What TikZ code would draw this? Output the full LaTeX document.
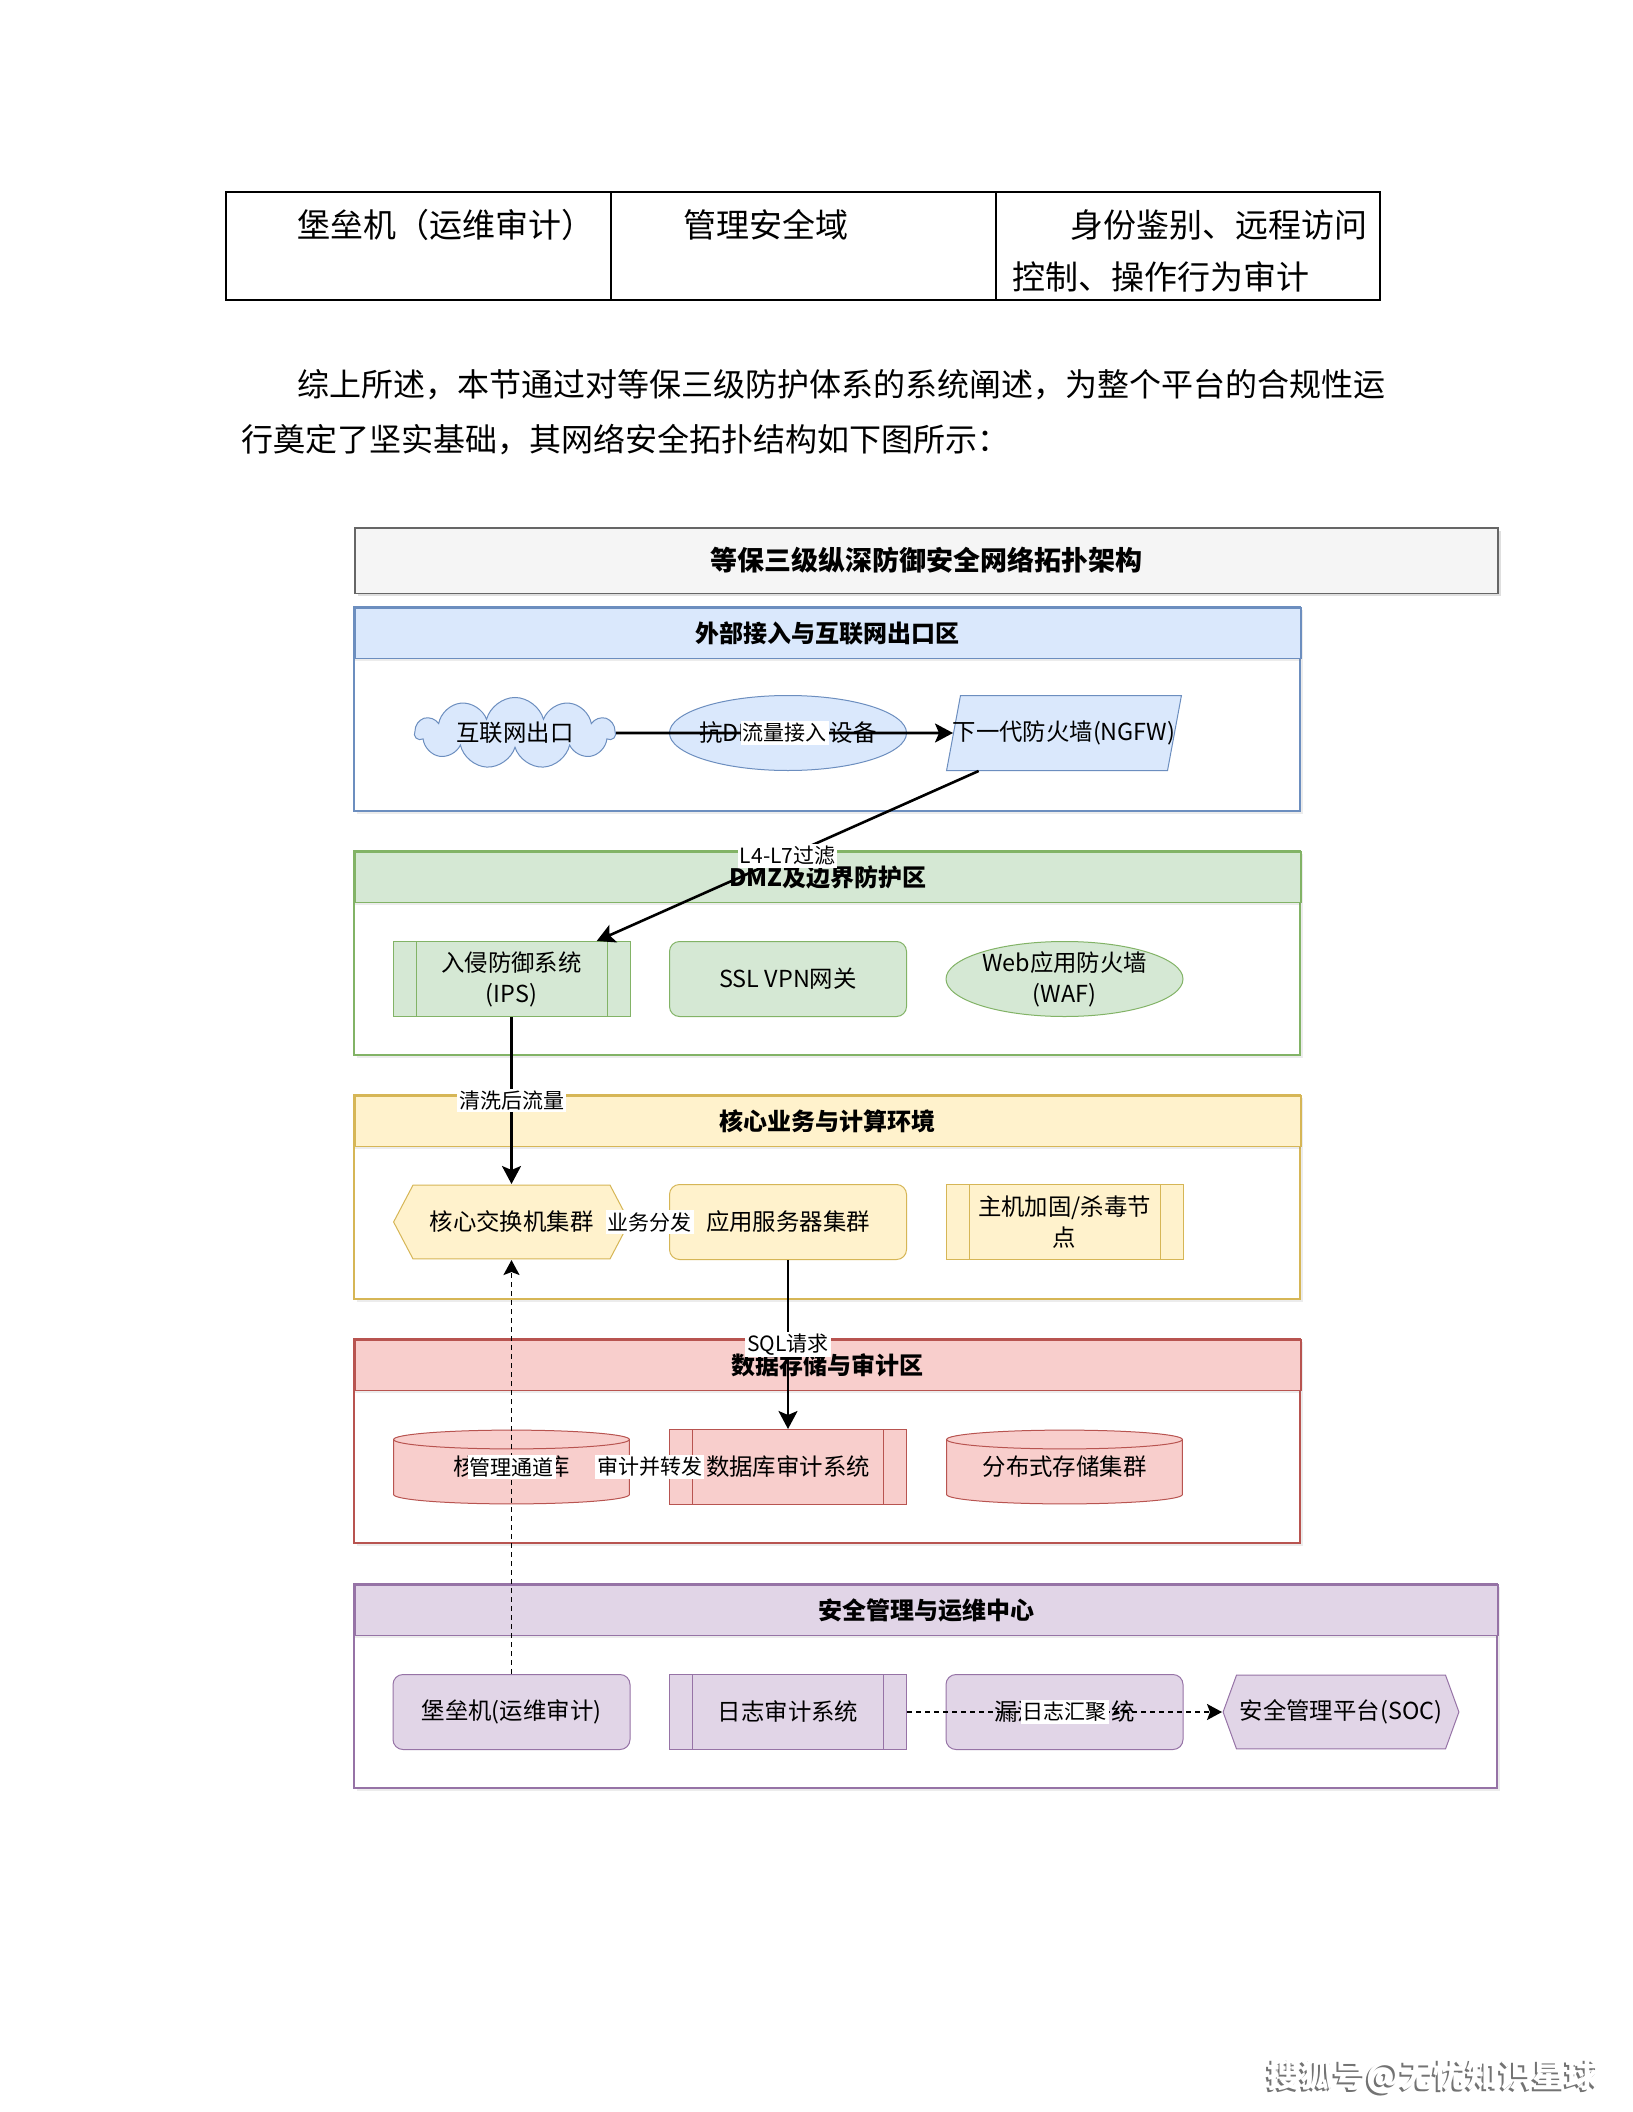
\documentclass[tikz,border=0pt]{standalone}
\usepackage{fontspec}
\setmainfont{Noto Sans CJK SC}
\usetikzlibrary{arrows.meta,positioning,shapes.geometric,shapes.symbols,shadows}
\definecolor{bluefill}{HTML}{DAE8FC}
\definecolor{blueline}{HTML}{6C8EBF}
\definecolor{greenfill}{HTML}{D5E8D4}
\definecolor{greenline}{HTML}{82B366}
\definecolor{yellowfill}{HTML}{FFF2CC}
\definecolor{yellowline}{HTML}{D6B656}
\definecolor{redfill}{HTML}{F8CECC}
\definecolor{redline}{HTML}{B85450}
\definecolor{purplefill}{HTML}{E1D5E7}
\definecolor{purpleline}{HTML}{9673A6}
\definecolor{grayfill}{HTML}{F5F5F5}
\definecolor{grayline}{HTML}{666666}
\newcommand{\bodyfont}{\fontsize{16.5}{20}\selectfont}
\newcommand{\parafont}{\fontsize{16}{20}\selectfont}
\newcommand{\titlefont}{\fontsize{13.5}{16}\selectfont\bfseries}
\newcommand{\headfont}{\fontsize{12}{14}\selectfont\bfseries}
\newcommand{\boxfont}{\fontsize{11.7}{15.5}\selectfont}
\newcommand{\lblfont}{\fontsize{10.5}{12}\selectfont}
\tikzset{
  texte/.style={
    anchor=west,
    inner sep=0pt,
    font=\bodyfont
  },
  tabline/.style={
    line width=0.75pt,
    black
  },
  titlebox/.style={
    draw=grayline,
    fill=grayfill,
    line width=0.8pt,
    anchor=north west,
    minimum width=571.5pt,
    minimum height=32.75pt,
    font=\titlefont,
    drop shadow={shadow xshift=1.5pt,shadow yshift=-1.5pt,opacity=0.25}
  },
  zonebody/.style={
    draw=#1,
    fill=white,
    line width=0.8pt,
    drop shadow={shadow xshift=1.5pt,shadow yshift=-1.5pt,opacity=0.15}
  },
  zonehead/.style 2 args={
    draw=#2,
    fill=#1,
    line width=0.8pt,
    anchor=north west,
    minimum width=473pt,
    minimum height=25.25pt,
    font=\headfont,
    drop shadow={shadow xshift=0pt,shadow yshift=-1.5pt,opacity=0.15}
  },
  nodebox/.style={
    draw,
    line width=0.5pt,
    align=center,
    minimum width=118.5pt,
    minimum height=37.5pt,
    inner sep=2pt,
    font=\boxfont
  },
  roundbox/.style={
    nodebox,
    rounded corners=5pt
  },
  ovalbox/.style={
    nodebox,
    ellipse,
    inner xsep=-4pt,
    inner ysep=-4pt
  },
  procbox/.style={
    nodebox,
    draw=#1,
    path picture={
      \draw[#1,line width=0.5pt]
        ([xshift=11.5pt]path picture bounding box.north west) --
        ([xshift=11.5pt]path picture bounding box.south west)
        ([xshift=-11.5pt]path picture bounding box.north east) --
        ([xshift=-11.5pt]path picture bounding box.south east);
    }
  },
  hexbox/.style n args={3}{
    nodebox,
    draw=none,
    fill=white,
    path picture={
      \filldraw[draw=#1,fill=#2,line width=0.5pt]
        ([xshift=0.3pt]path picture bounding box.west) --
        ([xshift=#3,yshift=-0.3pt]path picture bounding box.north west) --
        ([xshift=-#3,yshift=-0.3pt]path picture bounding box.north east) --
        ([xshift=-0.3pt]path picture bounding box.east) --
        ([xshift=-#3,yshift=0.3pt]path picture bounding box.south east) --
        ([xshift=#3,yshift=0.3pt]path picture bounding box.south west) -- cycle;
    }
  },
  dbbox/.style 2 args={
    nodebox,
    draw=none,
    fill=white,
    path picture={
      \filldraw[draw=#1,fill=#2,line width=0.5pt]
        ([xshift=0.3pt,yshift=-5pt]path picture bounding box.north west) --
        ([xshift=0.3pt,yshift=5pt]path picture bounding box.south west)
        arc[start angle=180,end angle=360,x radius=58.95pt,y radius=4.7pt] --
        ([xshift=-0.3pt,yshift=-5pt]path picture bounding box.north east)
        arc[start angle=0,end angle=180,x radius=58.95pt,y radius=4.7pt] -- cycle;
      \draw[#1,line width=0.5pt]
        ([xshift=0.3pt,yshift=-5pt]path picture bounding box.north west)
        arc[start angle=180,end angle=360,x radius=58.95pt,y radius=4.7pt];
    }
  },
  lbl/.style={
    fill=white,
    inner sep=1pt,
    font=\lblfont
  },
  wm/.style={
    font=\fontsize{16.5}{20}\selectfont\bfseries
  },
  arrow/.style={
    -{Stealth[length=9pt,width=9.5pt,inset=2pt]},
    line width=1.3pt,
    black
  },
  dasharrow/.style={
    -{Stealth[length=7.5pt,width=8pt,inset=1.5pt]},
    line width=0.9pt,
    dash pattern=on 2.5pt off 2pt,
    black
  }
}

\begin{document}
\begin{tikzpicture}[x=0.5pt,y=-0.5pt,node distance=19.25pt]
\useasboundingbox (0,0) rectangle (1632,2112);
% table and text above the figure
\draw[tabline] (226,192) rectangle (1380,300);
\draw[tabline] (611,192) -- (611,300) (996,192) -- (996,300);
\node[texte] (c1) at (297,225) {堡垒机（运维审计）};
\node[texte] (c2) at (683,225) {管理安全域};
\node[texte] (c3a) at (1070,225) {身份鉴别、远程访问};
\node[texte] (c3b) at (1012,277) {控制、操作行为审计};
\node[texte,font=\parafont] (p1) at (297,385) {综上所述，本节通过对等保三级防护体系的系统阐述，为整个平台的合规性运};
\node[texte,font=\parafont] (p2) at (241,440) {行奠定了坚实基础，其网络安全拓扑结构如下图所示：};

% title
\node[titlebox] (title) at (354,527) {等保三级纵深防御安全网络拓扑架构};

% zones
\draw[zonebody=blueline] (354,607) rectangle (1300,811);
\node[zonehead={bluefill}{blueline}] (z1) at (354,607) {外部接入与互联网出口区};
\draw[zonebody=greenline] (354,851) rectangle (1300,1055);
\node[zonehead={greenfill}{greenline}] (z2) at (354,851) {DMZ及边界防护区};
\draw[zonebody=yellowline] (354,1095) rectangle (1300,1299);
\node[zonehead={yellowfill}{yellowline}] (z3) at (354,1095) {核心业务与计算环境};
\draw[zonebody=redline] (354,1339) rectangle (1300,1543);
\node[zonehead={redfill}{redline}] (z4) at (354,1339) {数据存储与审计区};
\draw[zonebody=purpleline] (354,1584) rectangle (1497,1788);
\node[zonehead={purplefill}{purpleline},minimum width=571.5pt] (z5) at (354,1584) {安全管理与运维中心};

% external access
\node[nodebox,cloud,cloud puffs=11,aspect=4.5,inner sep=0pt,minimum width=100pt,minimum height=20pt,draw=blueline,fill=bluefill] (inet) at (515,733) {互联网出口};
\node[ovalbox,draw=blueline,fill=bluefill] (ddos) at (788,733) {抗DDoS清洗设备};
\node[nodebox,trapezium,trapezium left angle=70,trapezium right angle=110,trapezium stretches=true,inner xsep=-12pt,draw=blueline,fill=bluefill] (ngfw) at (1064,733) {下一代防火墙(NGFW)};

% DMZ
\node[procbox=greenline,fill=greenfill] (ips) at (511.5,979) {入侵防御系统\\(IPS)};
\node[roundbox,draw=greenline,fill=greenfill,right=of ips] (vpn) {SSL VPN网关};
\node[ovalbox,draw=greenline,fill=greenfill,right=of vpn] (waf) {Web应用防火墙\\(WAF)};

% core business
\node[hexbox={yellowline}{yellowfill}{10pt}] (core) at (511.5,1222) {核心交换机集群};
\node[roundbox,draw=yellowline,fill=yellowfill,right=of core] (app) {应用服务器集群};
\node[procbox=yellowline,fill=yellowfill,right=of app] (host) {主机加固/杀毒节\\点};

% data storage
\node[dbbox={redline}{redfill}] (coredb) at (511.5,1467) {核心数据库};
\node[procbox=redline,fill=redfill,right=of coredb] (dbaudit) {数据库审计系统};
\node[dbbox={redline}{redfill},right=of dbaudit] (store) {分布式存储集群};

% security management
\node[roundbox,draw=purpleline,fill=purplefill] (bastion) at (511.5,1712) {堡垒机(运维审计)};
\node[procbox=purpleline,fill=purplefill,right=of bastion] (logaudit) {日志审计系统};
\node[roundbox,draw=purpleline,fill=purplefill,right=of logaudit] (vuln) {漏洞扫描系统};
\node[hexbox={purpleline}{purplefill}{7pt},right=of vuln] (soc) {安全管理平台(SOC)};

% connectors
\draw[arrow] (inet) -- node[lbl] {流量接入} (ngfw);
\draw[arrow] (ngfw) -- node[lbl] {L4-L7过滤} (ips);
\draw[arrow] (ips) -- node[lbl] {清洗后流量} (core);
\draw[arrow] (core) -- node[lbl] {业务分发} (app);
\draw[arrow] (app) -- node[lbl] {SQL请求} (dbaudit);
\draw[arrow] (dbaudit) -- node[lbl] {审计并转发} (coredb);
\draw[dasharrow] (bastion) -- node[lbl] {管理通道} (core);
\draw[dasharrow] (logaudit) -- node[lbl] {日志汇聚} (soc);

% platform mark
\node[wm,text=black!55] (wmshade) at (1431,2078) {搜狐号@无忧知识星球};
\node[wm,text=white] (wmark) at (1433,2076) {搜狐号@无忧知识星球};
\end{tikzpicture}
\end{document}
